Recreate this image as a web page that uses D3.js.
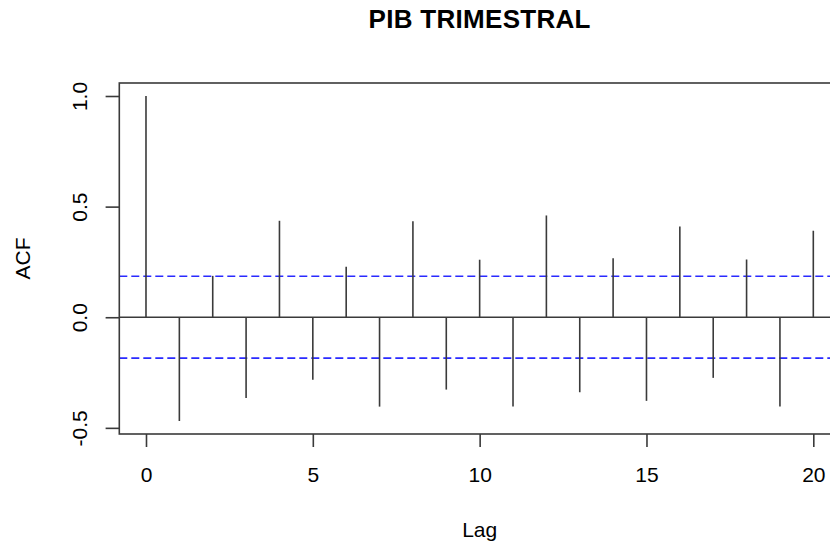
<!DOCTYPE html>
<html>
<head>
<meta charset="utf-8">
<script src="https://cdn.jsdelivr.net/npm/d3@7"></script>
<style>
  html, body { margin: 0; padding: 0; background: #ffffff; }
  svg { display: block; }
  text { font-family: "Liberation Sans", Arial, sans-serif; fill: #000; }
</style>
</head>
<body>
<svg id="chart" width="830" height="546"></svg>
<script>
// ---- data ----
const chartTitle = "PIB TRIMESTRAL";
const xLabel = "Lag";
const yLabel = "ACF";
const lags = [0, 1, 2, 3, 4, 5, 6, 7, 8, 9, 10, 11, 12, 13, 14, 15, 16, 17, 18, 19, 20];
const acfValues = [1.0, -0.469, 0.187, -0.365, 0.436, -0.282, 0.228, -0.404, 0.434, -0.327,
                   0.260, -0.404, 0.460, -0.339, 0.267, -0.378, 0.410, -0.274, 0.261, -0.404, 0.391];
const ciBound = 0.185;
const xTicks = [0, 5, 10, 15, 20];
const yTicks = [-0.5, 0.0, 0.5, 1.0];
const yTickLabels = ["-0.5", "0.0", "0.5", "1.0"];

// ---- layout ----
const svg = d3.select("#chart");
const plot = { left: 119.3, right: 840, top: 83, bottom: 434 };

function padRange(lo, hi) { const p = (hi - lo) * 0.04; return [lo - p, hi + p]; }
const xDom = padRange(d3.min(lags), d3.max(lags));
const yDom = padRange(Math.min(d3.min(acfValues), -ciBound), Math.max(d3.max(acfValues), ciBound));

const x = d3.scaleLinear().domain(xDom).range([plot.left, plot.right]);
const y = d3.scaleLinear().domain(yDom).range([plot.bottom, plot.top]);

const lineCol = "#3a3a3a";
const lw = 1.6;

// title
svg.append("text")
  .attr("x", (plot.left + plot.right) / 2)
  .attr("y", 28)
  .attr("text-anchor", "middle")
  .style("font-weight", "bold")
  .style("font-size", "26px")
  .style("letter-spacing", "0.3px")
  .text(chartTitle);

// zero line
svg.append("line")
  .attr("x1", plot.left).attr("x2", plot.right)
  .attr("y1", y(0)).attr("y2", y(0))
  .attr("stroke", lineCol).attr("stroke-width", lw);

// confidence bounds
svg.selectAll("line.ci").data([ciBound, -ciBound]).enter().append("line")
  .attr("class", "ci")
  .attr("x1", plot.left).attr("x2", plot.right)
  .attr("y1", d => y(d)).attr("y2", d => y(d))
  .attr("stroke", "#2a2aff").attr("stroke-width", lw)
  .attr("stroke-dasharray", "8,4");

// ACF spikes
svg.selectAll("line.spike").data(lags).enter().append("line")
  .attr("class", "spike")
  .attr("x1", d => x(d)).attr("x2", d => x(d))
  .attr("y1", y(0)).attr("y2", (d, i) => y(acfValues[i]))
  .attr("stroke", lineCol).attr("stroke-width", lw);

// box
svg.append("rect")
  .attr("x", plot.left).attr("y", plot.top)
  .attr("width", plot.right - plot.left).attr("height", plot.bottom - plot.top)
  .attr("fill", "none").attr("stroke", lineCol).attr("stroke-width", lw);

// x axis
const xAxis = d3.axisBottom(x).tickValues(xTicks).tickSize(13).tickPadding(20).tickFormat(d3.format("d"));
const gx = svg.append("g").attr("transform", `translate(0,${plot.bottom})`).call(xAxis);
gx.select(".domain").remove();
gx.selectAll(".tick line").attr("stroke", lineCol).attr("stroke-width", lw);
gx.selectAll(".tick text")
  .style("font-size", "21px")
  .style("font-family", "'Liberation Sans', Arial, sans-serif")
  .attr("fill", "#000");

// y axis
const yAxis = d3.axisLeft(y).tickValues(yTicks).tickSize(13.7)
  .tickFormat((d, i) => yTickLabels[i]);
const gy = svg.append("g").attr("transform", `translate(${plot.left},0)`).call(yAxis);
gy.select(".domain").remove();
gy.selectAll(".tick line").attr("stroke", lineCol).attr("stroke-width", lw);
gy.selectAll(".tick text")
  .attr("x", 0).attr("dy", null).attr("y", 0)
  .attr("text-anchor", "middle")
  .attr("transform", `translate(${87 - plot.left},0) rotate(-90)`)
  .style("font-size", "21px")
  .style("font-family", "'Liberation Sans', Arial, sans-serif")
  .attr("fill", "#000");

// axis titles
svg.append("text")
  .attr("x", (plot.left + plot.right) / 2)
  .attr("y", 537)
  .attr("text-anchor", "middle")
  .style("font-size", "21px")
  .text(xLabel);

svg.append("text")
  .attr("transform", `translate(30,${(plot.top + plot.bottom) / 2}) rotate(-90)`)
  .attr("text-anchor", "middle")
  .style("font-size", "21px")
  .text(yLabel);
</script>
</body>
</html>
